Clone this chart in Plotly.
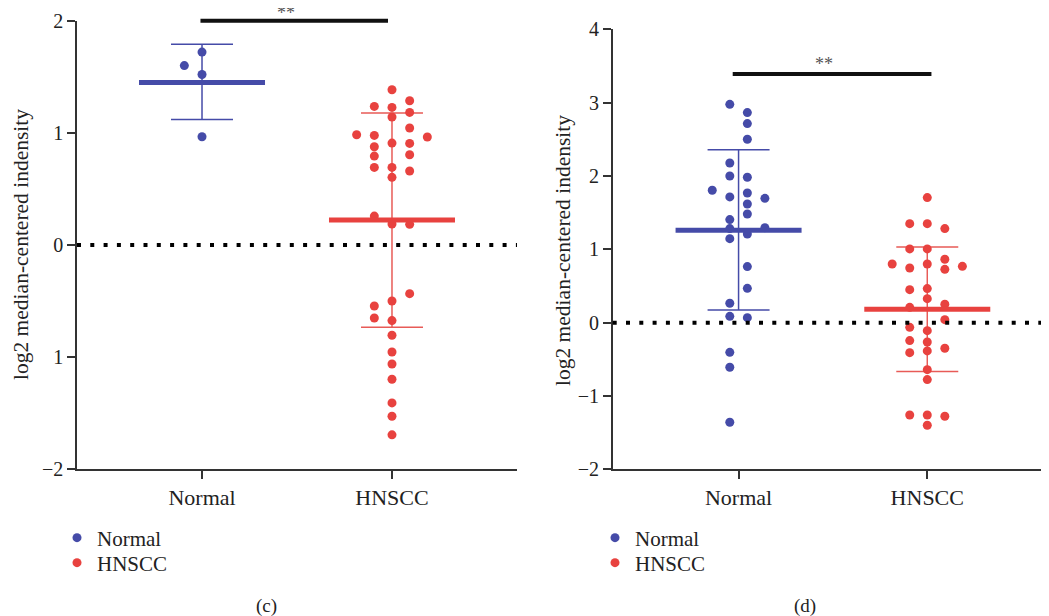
import plotly.graph_objects as go

# ---------------- data ----------------
categories = ["Normal", "HNSCC"]

# panel (c)
c_normal_vals = [1.72, 1.60, 1.52, 0.965]
c_normal_cols = [0, -1, 0, 0]
c_hnscc_vals = [1.384, 1.286, 1.236, 1.227, 1.182, 1.141, 1.043, 0.983, 0.977, 0.963,
                0.909, 0.906, 0.876, 0.805, 0.793, 0.692, 0.692, 0.660, 0.603, 0.258,
                0.187, 0.184, -0.434, -0.499, -0.544, -0.651, -0.674, -0.805, -0.954,
                -1.061, -1.197, -1.408, -1.527, -1.693]
c_hnscc_cols = [0, 1, -1, 0, 1, 0, 1, -2, -1, 2,
                0, 1, -1, 1, -1, -1, 0, 1, 0, -1,
                0, 1, 1, 0, -1, -1, 0, 0, 0,
                0, 0, 0, 0, 0]
c_mean = [1.45, 0.223]
c_upper = [1.79, 1.176]
c_lower = [1.12, -0.734]
c_sig = {"y": 2.0, "x0": -0.016, "x1": 0.979, "label": "**"}
c_yticks = [2, 1, 0, -1, -2]
c_yticktext = ["2", "1", "0", "1", "\u22122"]

# panel (d)
d_normal_vals = [2.977, 2.864, 2.714, 2.5, 2.177, 2.0, 1.982, 1.805, 1.768, 1.714,
                 1.695, 1.618, 1.482, 1.405, 1.282, 1.295, 1.209, 1.145, 0.764, 0.468,
                 0.264, 0.086, 0.068, -0.405, -0.609, -1.359]
d_normal_cols = [-0.5, 0.5, 0.5, 0.5, -0.5, -0.5, 0.5, -1.5, 0.5, -0.5,
                 1.5, 0.5, 0.5, -0.5, -0.5, 1.5, 0.5, -0.5, 0.5, 0.5,
                 -0.5, -0.5, 0.5, -0.5, -0.5, -0.5]
d_hnscc_vals = [1.705, 1.35, 1.35, 1.282, 1.005, 1.005, 0.864, 0.8, 0.8, 0.768,
                0.745, 0.727, 0.45, 0.464, 0.327, 0.209, 0.25, 0.041, -0.064, -0.109,
                -0.245, -0.264, -0.35, -0.409, -0.386, -0.641, -0.777, -1.259, -1.259,
                -1.277, -1.4]
d_hnscc_cols = [0, -1, 0, 1, -1, 0, 1, -2, 0, 2,
                -1, 1, -1, 0, 0, -1, 1, 1, -1, 0,
                -1, 0, 1, -1, 0, 0, 0, -1, 0,
                1, 0]
d_mean = [1.259, 0.182]
d_upper = [2.359, 1.032]
d_lower = [0.173, -0.668]
d_sig = {"y": 3.39, "x0": -0.039, "x1": 1.022, "label": "**"}
d_yticks = [4, 3, 2, 1, 0, -1, -2]
d_yticktext = ["4", "3", "2", "1", "0", "\u22121", "\u22122"]

# ---------------- style / layout helpers ----------------
BLUE = "#454BA8"
RED = "#E8423F"
RED_ERR = "#E85B57"
FONT = "Liberation Serif"
TXT = "#222222"
COL_W = 0.093
PAGE_PAD = 8                      # default body margin of the html page
W, H = 1049 - PAGE_PAD, 616 - PAGE_PAD


def fx(px):
    return (px - PAGE_PAD) / W


def fy(py):
    return 1 - (py - PAGE_PAD) / H


fig = go.Figure()


def add_panel(xa, ya, normal_vals, normal_cols, hnscc_vals, hnscc_cols,
              mean, upper, lower, legends):
    colors = [BLUE, RED]
    err_colors = [BLUE, RED_ERR]
    groups = [(normal_vals, normal_cols), (hnscc_vals, hnscc_cols)]
    for i in range(2):
        fig.add_trace(go.Scatter(
            x=[i], y=[mean[i]], xaxis=xa, yaxis=ya, mode="markers",
            marker=dict(size=1, color="rgba(0,0,0,0)"),
            error_y=dict(type="data", symmetric=False,
                         array=[upper[i] - mean[i]],
                         arrayminus=[mean[i] - lower[i]],
                         color=err_colors[i], thickness=1.5, width=31),
            showlegend=False, hoverinfo="skip"))
    for i, (vals, cols) in enumerate(groups):
        fig.add_trace(go.Scatter(
            x=[i + c * COL_W for c in cols], y=vals, xaxis=xa, yaxis=ya,
            mode="markers", name=categories[i],
            marker=dict(size=9, color=colors[i]),
            legend=legends[i], showlegend=True, cliponaxis=False))
    for i in range(2):
        fig.add_trace(go.Scatter(
            x=[i], y=[mean[i]], xaxis=xa, yaxis=ya, mode="markers",
            marker=dict(symbol="line-ew-open", size=90, color=colors[i],
                        line=dict(width=5, color=colors[i])),
            showlegend=False, hoverinfo="skip"))


add_panel("x", "y", c_normal_vals, c_normal_cols, c_hnscc_vals, c_hnscc_cols,
          c_mean, c_upper, c_lower, ["legend", "legend2"])
add_panel("x2", "y2", d_normal_vals, d_normal_cols, d_hnscc_vals, d_hnscc_cols,
          d_mean, d_upper, d_lower, ["legend3", "legend4"])

axis_common = dict(showgrid=False, zeroline=False, showline=True,
                   linecolor="#333333", linewidth=1.5, ticks="outside",
                   ticklen=8, tickwidth=1.5, tickcolor="#333333",
                   tickfont=dict(family=FONT, size=20, color=TXT))
xfont = dict(family=FONT, size=22, color=TXT)


def leg(xpx, ypx):
    return dict(x=fx(xpx), y=fy(ypx), xanchor="left", yanchor="middle",
                font=dict(family=FONT, size=21, color=TXT),
                bgcolor="rgba(0,0,0,0)", borderwidth=0)


fig.update_layout(
    width=W, height=H,
    margin=dict(l=0, r=0, t=0, b=0, autoexpand=False),
    paper_bgcolor="white", plot_bgcolor="white",
    font=dict(family=FONT, color=TXT),
    xaxis=dict(domain=[fx(77), fx(517)], range=[-0.658, 1.658],
               tickvals=[0, 1], ticktext=categories, anchor="y",
               **{**axis_common, "tickfont": xfont}),
    yaxis=dict(domain=[fy(469.3), fy(20.7)], range=[-2, 2],
               tickvals=c_yticks, ticktext=c_yticktext, anchor="x", **axis_common),
    xaxis2=dict(domain=[fx(612.7), 1.0], range=[-0.667, 1.645],
                tickvals=[0, 1], ticktext=categories, anchor="y2",
                **{**axis_common, "tickfont": xfont}),
    yaxis2=dict(domain=[fy(469.3), fy(29.3)], range=[-2, 4],
                tickvals=d_yticks, ticktext=d_yticktext, anchor="x2", **axis_common),
    legend=leg(57, 538),
    legend2=leg(57, 563),
    legend3=leg(595, 538),
    legend4=leg(595, 563),
)

# zero reference dotted lines
for xr, yr in [("x domain", "y"), ("x2 domain", "y2")]:
    fig.add_shape(type="line", xref=xr, yref=yr, x0=0, x1=1, y0=0, y1=0,
                  line=dict(color="black", width=4, dash="4px,9.3px"))

# significance bars
for sig, xr, yr, shift in [(c_sig, "x", "y", -4), (d_sig, "x2", "y2", -2)]:
    fig.add_annotation(x=sig["x1"], y=sig["y"], ax=sig["x0"], ay=sig["y"],
                       xref=xr, yref=yr, axref=xr, ayref=yr, text="",
                       showarrow=True, arrowhead=0, arrowwidth=4,
                       arrowcolor="#111111", standoff=0, startstandoff=0)
    fig.add_annotation(x=(sig["x0"] + sig["x1"]) / 2 - 0.04, y=sig["y"],
                       xref=xr, yref=yr, text=sig["label"], showarrow=False,
                       xanchor="center", yanchor="bottom", yshift=shift,
                       font=dict(family=FONT, size=18, color="#555555"))

# y-axis titles
ytitle = "log2 median-centered indensity"
for xpx, ypx in [(21, 245), (563, 251)]:
    fig.add_annotation(x=fx(xpx), y=fy(ypx), xref="paper", yref="paper",
                       xanchor="center", yanchor="middle",
                       text=ytitle, textangle=-90, showarrow=False,
                       font=dict(family=FONT, size=21.5, color=TXT))

# panel labels
for label, xpx in [("(c)", 266), ("(d)", 805)]:
    fig.add_annotation(x=fx(xpx), y=fy(606), xref="paper", yref="paper",
                       xanchor="center", yanchor="middle",
                       text=label, showarrow=False,
                       font=dict(family=FONT, size=19, color=TXT))

fig.write_html("out.html")
